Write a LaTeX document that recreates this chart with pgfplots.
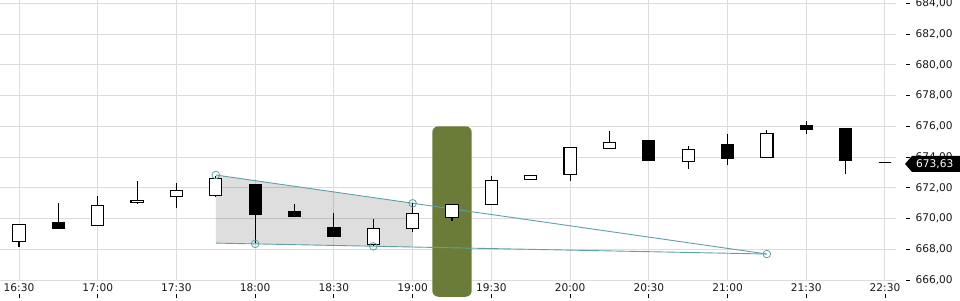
\documentclass[border=0pt]{standalone}
\usepackage{fontspec}
\setmainfont{DejaVu Sans}
\usepackage{pgfplots}
\usepackage{pgfplotstable}
\usepgfplotslibrary{statistics}
\pgfplotsset{compat=1.18}
\definecolor{gridc}{RGB}{220,220,220}
\definecolor{teal1}{RGB}{95,160,166}
\definecolor{olive1}{RGB}{107,124,56}
% candles: index, low, body low, body high, high
\pgfplotstableread{
i  lw     lq     uq     uw
0  668.16 668.51 669.62 669.62
1  669.36 669.36 669.75 670.99
2  669.56 669.56 670.86 671.44
3  670.96 671.05 671.18 672.44
4  670.70 671.44 671.83 672.29
5  671.42 671.51 672.61 672.78
6  668.39 670.27 672.18 672.18
7  670.08 670.14 670.47 670.94
8  668.84 668.84 669.43 670.36
9  668.21 668.32 669.36 669.97
10 669.14 669.36 670.34 671.03
11 669.86 670.08 670.92 670.92
12 670.92 670.92 672.48 672.76
13 672.55 672.55 672.81 672.81
14 672.46 672.87 674.63 674.63
15 674.57 674.57 674.96 675.69
16 673.76 673.76 675.04 675.04
17 673.24 673.72 674.50 674.72
18 673.50 673.89 674.78 675.50
19 673.98 673.98 675.54 675.74
20 675.48 675.80 676.02 676.34
21 672.91 673.76 675.82 675.82
22 673.63 673.63 673.63 673.63
}\candles
\newcommand\candle[2]{%
  \pgfplotstablegetelem{#1}{lw}\of\candles\let\cLW\pgfplotsretval
  \pgfplotstablegetelem{#1}{lq}\of\candles\let\cLQ\pgfplotsretval
  \pgfplotstablegetelem{#1}{uq}\of\candles\let\cUQ\pgfplotsretval
  \pgfplotstablegetelem{#1}{uw}\of\candles\let\cUW\pgfplotsretval
  \edef\cTemp{\noexpand\addplot[mark=none, draw=black, fill=#2, line width=1.1pt,
    boxplot prepared={draw position=#1, lower whisker=\cLW, lower quartile=\cLQ,
      median=\cLQ, upper quartile=\cUQ, upper whisker=\cUW,
      box extend=0.31, whisker extend=0}] coordinates {};}%
  \cTemp
}
\begin{document}
\begin{tikzpicture}
\begin{axis}[name=ax, at={(0,0)}, anchor=south west,
  scale only axis, width=896pt, height=280pt,
  xmin=-0.483, xmax=22.28, ymin=666, ymax=684.215,
  clip=false,
  axis line style={draw=none},
  xtick={0,2,...,22},
  xticklabels={16:30,17:00,17:30,18:00,18:30,19:00,19:30,20:00,20:30,21:00,21:30,22:30},
  ytick={666,668,...,684},
  xtick pos=bottom, ytick pos=right,
  grid=major, major grid style={gridc, line width=1pt},
  major tick length=0pt,
  tick style={draw=none},
  boxplot/draw direction=y,
  tick label style={font=\fontsize{10.6}{12}\selectfont, text=black!90},
  xticklabel style={/pgf/number format/assume math mode=true},
  yticklabel style={anchor=west, xshift=16pt,
    /pgf/number format/fixed, /pgf/number format/fixed zerofill,
    /pgf/number format/precision=2, /pgf/number format/use comma,
    /pgf/number format/1000 sep={}, /pgf/number format/assume math mode=true},
]
% triangle area
\addplot[draw=none, fill=black, fill opacity=0.13] coordinates {(5,672.83) (10,670.99) (10,668.14) (5,668.40)} --cycle;
% highlight bar
\addplot[draw=none, fill=olive1, rounded corners=6pt] coordinates {(10.5,664.91) (11.5,664.91) (11.5,676) (10.5,676)} --cycle;
% pattern lines
\addplot[teal1, line width=0.9pt, mark=none] coordinates {(5,672.83) (19,667.69)};
\addplot[teal1, line width=0.9pt, mark=none] coordinates {(5,668.40) (19,667.69)};
\addplot[only marks, mark=o, mark size=3.8pt, teal1, line width=0.8pt] coordinates {(5,672.83) (10,670.99) (6,668.35) (9,668.19) (19,667.69)};
% white candles
\pgfplotsinvokeforeach{0,2,3,4,5,9,10,11,12,13,14,15,17,19,22}{\candle{#1}{white}}
% black candles
\pgfplotsinvokeforeach{1,6,7,8,16,18,20,21}{\candle{#1}{black}}
\coordinate (P) at (rel axis cs:1,0);
\coordinate (Q) at (axis cs:22,673.55);
\end{axis}
% tick marks (x: below the labels; y: detached, left of labels)
\foreach \i in {0,2,...,22}
  \draw[black, line width=0.9pt] ([xshift={(0.483+\i)*39.362pt}, yshift=-14pt]ax.south west) -- ++(0,-4pt);
\foreach \k in {0,...,9}
  \draw[black, line width=0.9pt] ([xshift=906pt, yshift={\k*30.744pt}]ax.south west) -- ++(4pt,0);
\path (P |- Q) coordinate (F);
\fill[black] ([xshift=9pt]F) -- ([xshift=16pt,yshift=8pt]F) -- ([xshift=64pt,yshift=8pt]F) -- ([xshift=64pt,yshift=-8pt]F) -- ([xshift=16pt,yshift=-8pt]F) -- cycle;
\node[text=white, anchor=west, inner sep=0pt, font=\fontsize{10.6}{12}\selectfont] at ([xshift=20pt]F) {673,63};
\pgfresetboundingbox
\path[use as bounding box] ([yshift=-20pt]ax.south west) rectangle ([xshift=64pt]ax.north east);
\end{tikzpicture}
\end{document}
